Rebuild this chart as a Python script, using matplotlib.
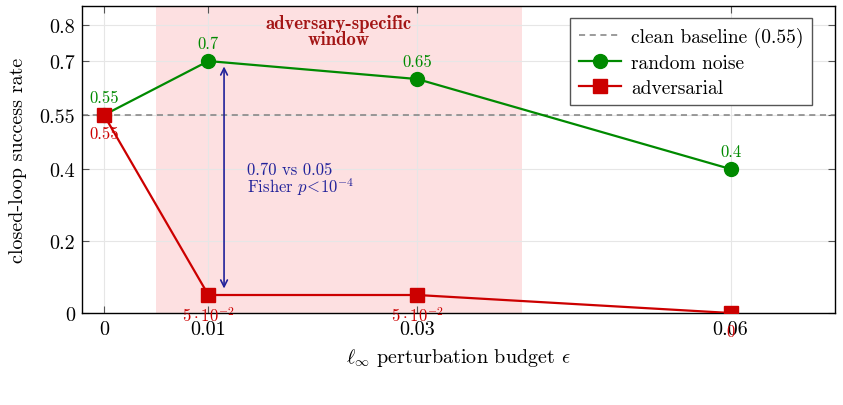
import matplotlib
matplotlib.use('Agg')
import matplotlib.pyplot as plt

# Datos
eps = [0, 0.01, 0.03, 0.06]
noise = [0.55, 0.7, 0.65, 0.4]
adv = [0.55, 0.05, 0.05, 0.0]
baseline = 0.55
noise_lbl = ['0.55', '0.7', '0.65', '0.4']
adv_lbl = ['0.55', r'$5\cdot10^{-2}$', r'$5\cdot10^{-2}$', '0']
yticks = [0, 0.2, 0.4, 0.55, 0.7, 0.8]
ytick_lbl = ['0', '0.2', '0.4', '0.55', '0.7', '0.8']
xtick_lbl = ['0', '0.01', '0.03', '0.06']
window = (0.005, 0.04)

plt.rcParams['font.family'] = 'cmr10'
plt.rcParams['mathtext.fontset'] = 'cm'
plt.rcParams['axes.unicode_minus'] = False

GREEN = '#008a00'
RED = '#cc0000'
BLUE = '#22229a'

fig = plt.figure(figsize=(8.43, 4.06), dpi=100)
ax = fig.add_axes([0.0973, 0.2266, 0.8932, 0.7562])

ax.axvspan(window[0], window[1], color='#fde0e1', zorder=0, lw=0)
ax.grid(True, color='#e6e6e6', lw=0.8, zorder=0.5)
ax.set_axisbelow(True)

ax.axhline(baseline, color='#808080', ls=(0, (4, 3)), lw=1.1, zorder=2,
           label='clean baseline (0.55)')
ax.plot(eps, noise, '-o', color=GREEN, lw=1.6, ms=10, zorder=3,
        label='random noise')
ax.plot(eps, adv, '-s', color=RED, lw=1.6, ms=10, zorder=4,
        label='adversarial')

# Etiquetas de los puntos
for x, y, t in zip(eps, noise, noise_lbl):
    ax.annotate(t, (x, y), xytext=(0, 7.5), textcoords='offset points',
                ha='center', va='bottom', color=GREEN, fontsize=12,
                zorder=6)
for x, y, t in zip(eps, adv, adv_lbl):
    ax.annotate(t, (x, y), xytext=(0, -7.5), textcoords='offset points',
                ha='center', va='top', color=RED, fontsize=12,
                annotation_clip=False, zorder=6)

ax.text(0.0225, 0.830, 'adversary-specific\nwindow', ha='center', va='top',
        color='#a31515', fontsize=13.5, family='cmb10', linespacing=0.85)

# Flecha de comparación
ax.annotate('', xy=(0.0115, 0.685), xytext=(0.0115, 0.068),
            arrowprops=dict(arrowstyle='<->', color=BLUE, lw=1.2,
                            shrinkA=0, shrinkB=0, mutation_scale=12))
ax.text(0.0137, 0.372, '0.70 vs 0.05\nFisher $p\\!<\\!10^{-4}$',
        color=BLUE, fontsize=12, va='center', ha='left', linespacing=0.9)

ax.set_xlim(-0.0021, 0.07)
ax.set_ylim(0, 0.853)
ax.set_xticks(eps)
ax.set_xticklabels(xtick_lbl)
ax.set_yticks(yticks)
ax.set_yticklabels(ytick_lbl)
ax.tick_params(direction='in', top=True, right=True, length=5,
               labelsize=14.5, color='#555555', pad=5)
for s in ax.spines.values():
    s.set_linewidth(1.0)

ax.set_xlabel(r'$\ell_\infty$ perturbation budget $\epsilon$', fontsize=14.5,
              labelpad=6)
ax.set_ylabel('closed-loop success rate', fontsize=14.5, labelpad=9)

leg = ax.legend(loc='upper right', bbox_to_anchor=(0.97, 0.96),
                fontsize=14, fancybox=False,
                edgecolor='#555555', framealpha=1, handlelength=2.2,
                borderaxespad=0.0, labelspacing=0.35, borderpad=0.45,
                handletextpad=0.5)
leg.get_frame().set_linewidth(1.0)

fig.savefig('out.png', dpi=100)
